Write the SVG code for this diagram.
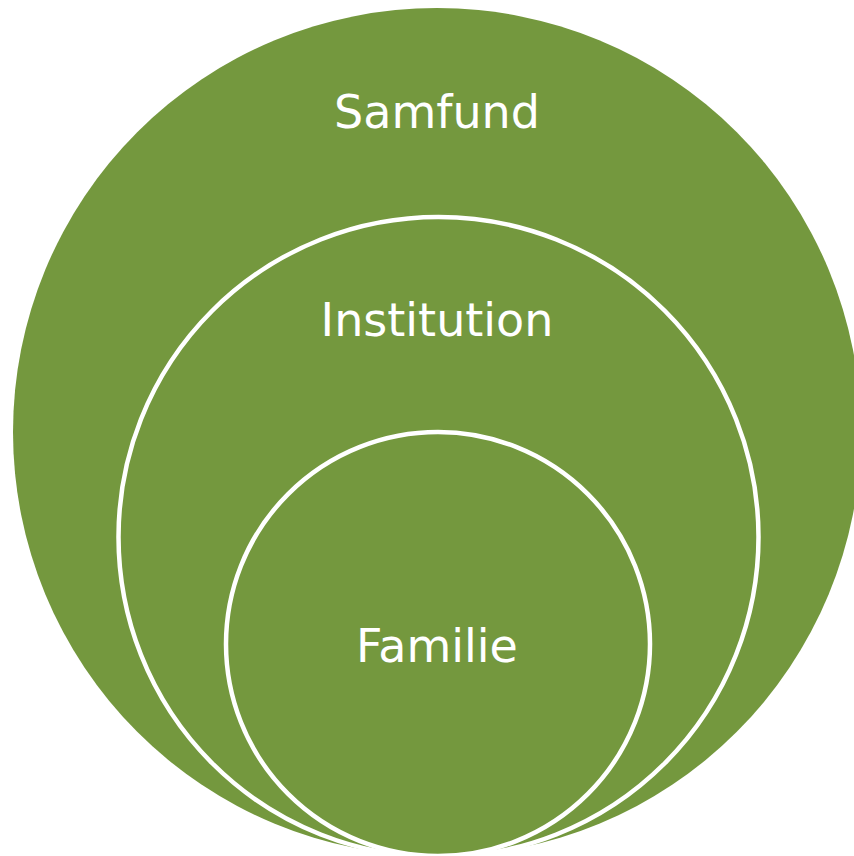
<svg xmlns="http://www.w3.org/2000/svg" width="854" height="856" viewBox="0 0 854 856">
<style>
.c{fill:#74983E}
.r{fill:#74983E;stroke:#FFFFFF;stroke-width:4.5}
.t{font-family:"DejaVu Sans","Verdana",sans-serif;font-size:46px;fill:#FFFFFF;text-anchor:middle}
</style>
<rect width="854" height="856" fill="#FFFFFF"/>
<g id="samfund">
<circle class="c" cx="437" cy="432" r="424"/>
<text class="t" x="437" y="128">Samfund</text>
</g>
<g id="institution">
<circle class="r" cx="438.5" cy="537" r="320"/>
<text class="t" x="437" y="336">Institution</text>
</g>
<g id="familie">
<circle class="r" cx="438" cy="644" r="212"/>
<text class="t" x="437" y="662">Familie</text>
</g>
<g id="connectors"/>
</svg>
